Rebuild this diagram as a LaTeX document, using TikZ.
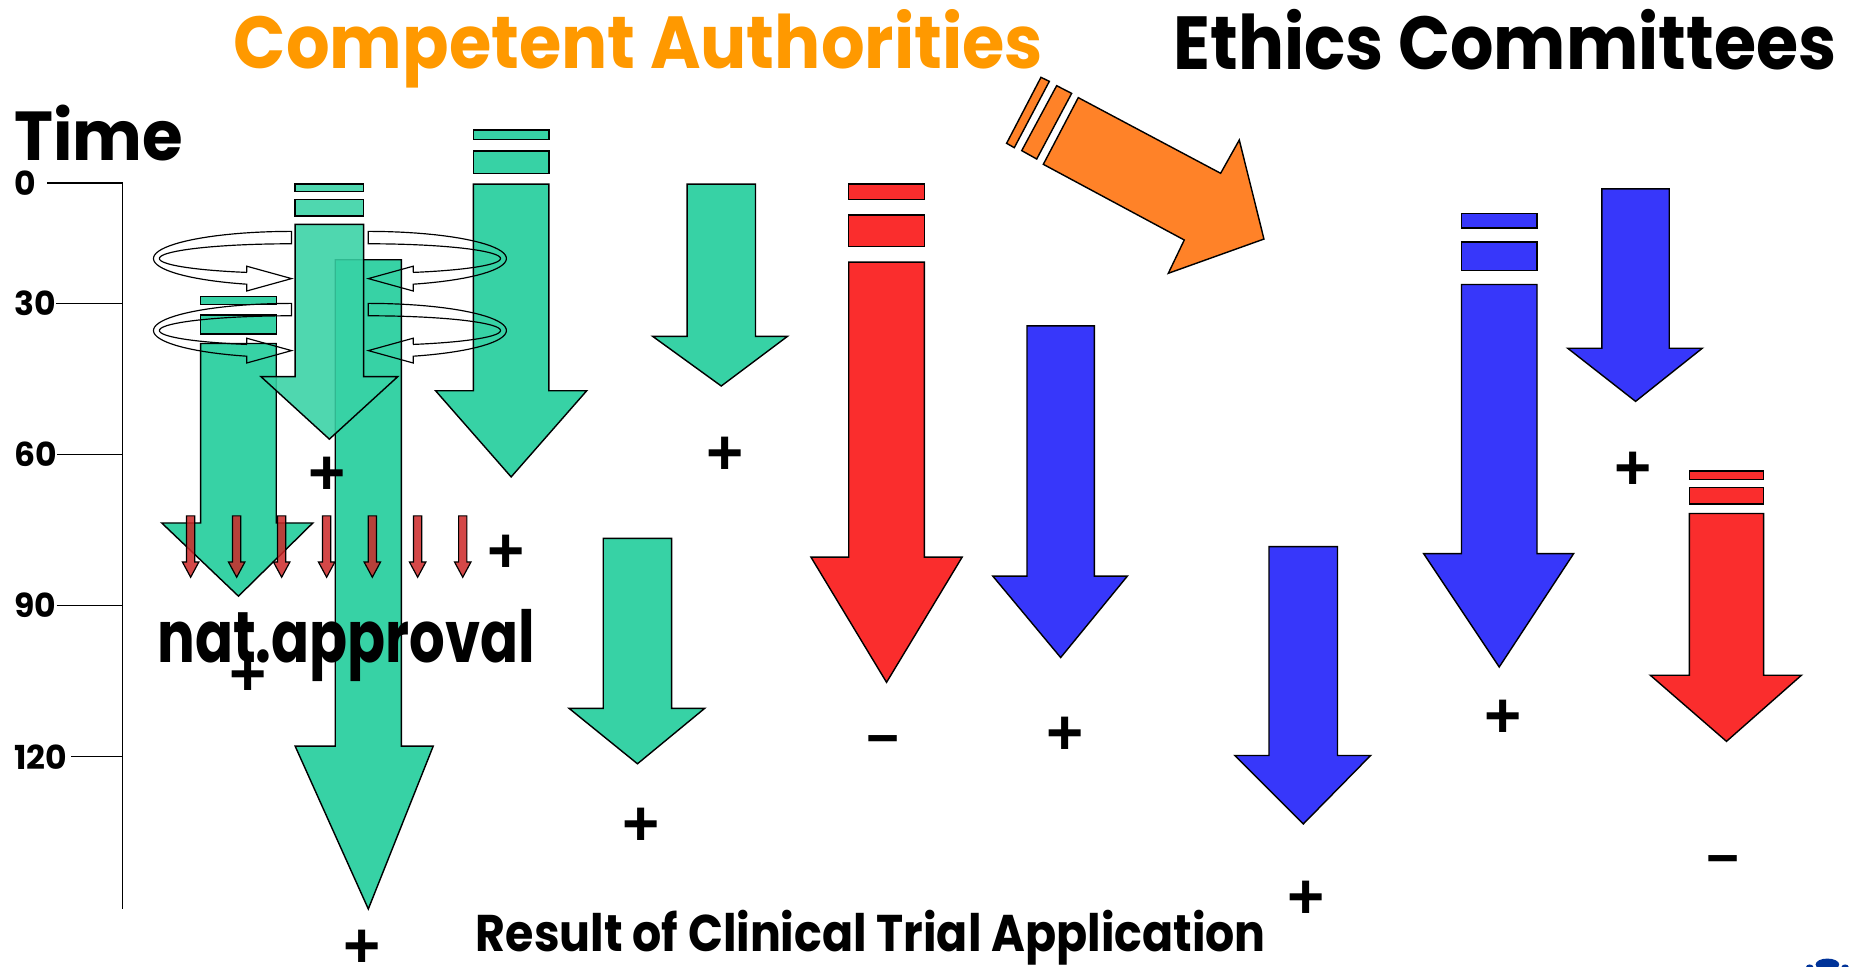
\documentclass[tikz,border=0pt]{standalone}
\usepackage{fontspec}
\newfontfamily\cfont{Poppins}
\newfontfamily\afont{Liberation Sans}
\definecolor{tgreen}{RGB}{55,210,165}
\definecolor{tred}{RGB}{250,45,45}
\definecolor{tblue}{RGB}{55,55,250}
\definecolor{torange}{RGB}{255,130,40}
\definecolor{ttitle}{RGB}{255,153,0}
\definecolor{sred}{RGB}{205,40,40}
\definecolor{logoblue}{RGB}{0,51,153}
\newcommand\varrow[8]{%
  \draw[#1] (#2,#4) -- (#3,#4) -- (#3,#5) -- (#7,#5) -- ({(#2+#3)/2},#8) -- (#6,#5) -- (#2,#5) -- cycle;}
\newcommand\ringarrow[1]{%
  \begin{scope}[#1]
  \draw[ring] (0,-12.5) -- (0,-23) -- plot[domain=0:161.05,samples=40] ({117*cos(270-\x)},{23*sin(270-\x)}) -- (-38,27.5) -- (0,17) -- (-38,6.5) -- (-38,11.76) -- plot[domain=109.8:270,samples=40] ({112*cos(\x)},{12.5*sin(\x)}) -- cycle;
  \end{scope}}
\tikzset{
  shp/.style={draw=black, line width=1.2pt, line join=miter},
  gr/.style={shp, fill=tgreen},
  grt/.style={shp, fill=tgreen, fill opacity=0.88},
  rd/.style={shp, fill=tred},
  bl/.style={shp, fill=tblue},
  og/.style={shp, fill=torange},
  sm/.style={draw=black, line width=1pt, fill=sred, fill opacity=0.85},
  ring/.style={draw=black, line width=1pt, line join=miter},
  axl/.style={black, line width=1.2pt},
  tick/.style={font=\cfont\bfseries\fontsize{28}{28}\selectfont, anchor=west, inner sep=0pt},
  pl/.style={font=\afont\bfseries\fontsize{54}{54}\selectfont, inner sep=0pt},
  mi/.style={font=\afont\bfseries\fontsize{48}{48}\selectfont, inner sep=0pt},
  txt/.style={anchor=base west, inner sep=0pt}
}
\begin{document}
\begin{tikzpicture}[x=1pt,y=-1pt]
\useasboundingbox (0,0) rectangle (1568,819);
\fill[white] (0,0) rectangle (1568,819);

% time axis
\draw[axl] (104,155) -- (104,770);
\node[tick] (t0) at (12,155) {0};
\node[tick] (t30) at (12,257) {30};
\node[tick] (t60) at (12,385) {60};
\node[tick] (t90) at (12,513) {90};
\node[tick] (t120) at (12,641) {120};
\draw[axl] (40,155) -- (104,155);
\draw[axl] (t30.east) -- (104,257);
\draw[axl] (t60.east) -- (104,385);
\draw[axl] (t90.east) -- (104,513);
\draw[axl] (t120.east) ++(3,0) -- (104,641);

% long green arrow
\varrow{gr}{284}{340}{220}{632}{250}{367}{770}
% G1
\draw[gr] (170,251) rectangle (234,258);
\draw[gr] (170,267) rectangle (234,283);
\varrow{gr}{170}{234}{291}{443}{137}{265}{505}
% G2
\draw[grt] (250,156) rectangle (308,162);
\draw[grt] (250,169) rectangle (308,183);
\varrow{grt}{250}{308}{190}{319}{221}{337}{372}
% G4
\draw[gr] (401,110) rectangle (465,118);
\draw[gr] (401,128) rectangle (465,147);
\varrow{gr}{401}{465}{156}{331}{369}{497}{404}
% G5
\varrow{gr}{582}{640}{156}{285}{553}{667}{327}
% G6
\varrow{gr}{511}{569}{456}{600}{482}{597}{647}
% R1
\draw[rd] (719,156) rectangle (783,169);
\draw[rd] (719,182) rectangle (783,209);
\varrow{rd}{719}{783}{222}{472}{687}{815}{578}
% B1
\varrow{bl}{870}{927}{276}{488}{841}{955}{557}
% B2
\varrow{bl}{1075}{1133}{463}{640}{1046}{1161}{698}
% B3
\draw[bl] (1238,181) rectangle (1302,193);
\draw[bl] (1238,205) rectangle (1302,229);
\varrow{bl}{1238}{1302}{241}{469}{1206}{1333}{565}
% B4
\varrow{bl}{1357}{1414}{160}{295}{1328}{1442}{340}
% R2
\draw[rd] (1431,399) rectangle (1494,406);
\draw[rd] (1431,413) rectangle (1494,427);
\varrow{rd}{1431}{1494}{435}{572}{1398}{1526}{628}
% orange arrow
\draw[og] (881.8,65.5) -- (888.9,68.9) -- (859.2,125.1) -- (852.7,121.4) -- cycle;
\draw[og] (895.1,72.6) -- (907.8,79.1) -- (878.2,134.7) -- (865.5,127.6) -- cycle;
\draw[og] (913.4,82.7) -- (1034,146.8) -- (1049.8,118.6) -- (1070.7,202.5) -- (989.7,231.5) -- (1003.2,203.3) -- (883.8,139.2) -- cycle;

% circular arrows
\ringarrow{shift={(247,219)}}
\ringarrow{shift={(312,219)},xscale=-1}
\ringarrow{shift={(247,280)}}
\ringarrow{shift={(312,280)},xscale=-1}

% small red arrows
\foreach \c in {161.5,200.5,238.6,276.7,315.4,353.8,392}{
  \draw[sm] (\c-3.5,437) -- (\c+3.5,437) -- (\c+3.5,476) -- (\c+7,476) -- (\c,489) -- (\c-7,476) -- (\c-3.5,476) -- cycle;
}

% texts
\node[txt, text=ttitle] (ca) at (198,58) {\resizebox{685pt}{50pt}{\cfont\bfseries Competent Authorities}};
\node[txt] (ec) at (994,59) {\resizebox{561pt}{51pt}{\cfont\bfseries Ethics Committees}};
\node[txt] (time) at (12,136) {\resizebox{143pt}{47pt}{\cfont\bfseries Time}};
\node[txt] (nat) at (133,561) {\resizebox{320pt}{45pt}{\cfont\bfseries nat.approval}};
\node[txt] (res) at (403,806) {\resizebox{669pt}{35pt}{\cfont\bfseries Result of Clinical Trial Application}};

% results
\node[pl] (p1) at (277,403) {+};
\node[pl] (p2) at (307,804) {+};
\node[pl] (p3) at (429,469) {+};
\node[pl] (p4) at (210,573) {+};
\node[pl] (p5) at (614,386) {+};
\node[pl] (p6) at (543,700) {+};
\node[mi] (m1) at (748,632) {−};
\node[pl] (p7) at (902,623) {+};
\node[pl] (p8) at (1106,762) {+};
\node[pl] (p9) at (1273,609) {+};
\node[pl] (p10) at (1383,399) {+};
\node[mi] (m2) at (1460,734) {−};

% logo fragment
\fill[logoblue] (1548,817) ellipse [x radius=10, y radius=5];
\fill[logoblue] (1533,819) ellipse [x radius=3, y radius=2];
\fill[logoblue] (1563,819) ellipse [x radius=3, y radius=2];
\end{tikzpicture}
\end{document}
